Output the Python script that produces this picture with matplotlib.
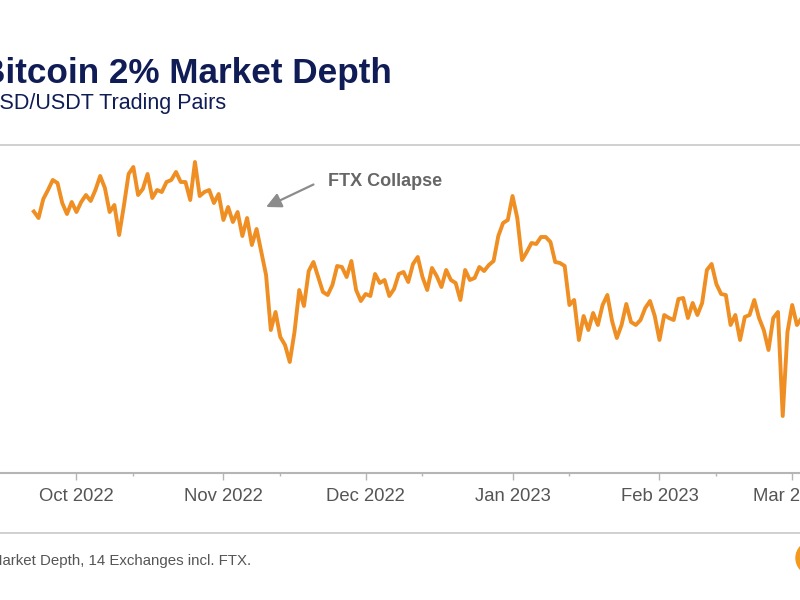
import matplotlib
matplotlib.use("Agg")
import matplotlib.pyplot as plt
import matplotlib.dates as mdates
from matplotlib.lines import Line2D
from matplotlib.patches import Circle
import datetime as dt

plt.rcParams['font.family'] = ['Liberation Sans', 'DejaVu Sans']

# ---- data: BTC 2% market depth (USD m), daily from 2022-09-22 ----
start_date = dt.date(2022, 9, 22)
depth_musd = [
    523, 510, 548, 566, 586, 580, 540, 518, 542, 522,
    542, 556, 544, 566, 594, 570, 522, 536, 476, 534,
    598, 612, 556, 568, 598, 550, 566, 562, 582, 586,
    602, 582, 582, 546, 622, 554, 562, 566, 540, 558,
    506, 532, 502, 522, 474, 510, 456, 488, 442, 396,
    286, 322, 272, 256, 222, 282, 366, 334, 404, 422,
    392, 362, 356, 376, 414, 412, 392, 424, 366, 344,
    358, 354, 398, 380, 386, 354, 368, 398, 402, 382,
    418, 432, 392, 366, 410, 394, 372, 406, 386, 380,
    346, 406, 386, 390, 412, 404, 416, 424, 474, 500,
    506, 554, 510, 426, 442, 460, 458, 472, 472, 462,
    422, 420, 414, 336, 346, 266, 314, 286, 320, 296,
    336, 356, 304, 270, 296, 338, 302, 296, 306, 330,
    344, 314, 266, 316, 310, 306, 348, 350, 310, 340,
    316, 340, 406, 418, 378, 358, 356, 296, 316, 266,
    312, 316, 346, 310, 286, 246, 310, 322, 114, 282,
    336, 296, 310,
]
dates = [start_date + dt.timedelta(days=i) for i in range(len(depth_musd))]

title = "Bitcoin 2% Market Depth"
subtitle = "USD/USDT Trading Pairs"
footer = "Market Depth, 14 Exchanges incl. FTX."
annot_text = "FTX Collapse"
annot_tip = (dt.date(2022, 11, 10), 532)
annot_tail = (dt.date(2022, 11, 20), 577)
annot_text_pos = (dt.date(2022, 11, 23), 584)

line_color = '#EF8E22'
navy = '#101C55'

W, H = 800, 600
fig = plt.figure(figsize=(8, 6), dpi=100)
fig.patch.set_facecolor('white')

def fx(px):
    return px / W

def fy(py):
    return 1 - py / H

ax = fig.add_axes([0, fy(473), 1, (473 - 145) / H])
ax.plot(dates, depth_musd, color=line_color, lw=2.8, solid_joinstyle='round')

d0 = mdates.date2num(start_date)
ax.set_xlim(d0 - 33.8 / 4.74, d0 + (800 - 33.8) / 4.74)
ax.set_ylim(0, 656)

ax.xaxis.set_major_locator(mdates.MonthLocator())
ax.xaxis.set_major_formatter(mdates.DateFormatter('%b %Y'))
ax.xaxis.set_minor_locator(mdates.DayLocator(bymonthday=13))
ax.tick_params(axis='x', which='major', length=5, width=1, color='#b5b5b5',
               labelsize=13.3, labelcolor='#555555', pad=6)
ax.tick_params(axis='x', which='minor', length=2.5, width=1, color='#b5b5b5')
ax.set_yticks([])
for s in ['left', 'right']:
    ax.spines[s].set_visible(False)
ax.spines['top'].set_color('#c8c8c8')
ax.spines['top'].set_linewidth(1.2)
ax.spines['bottom'].set_color('#b5b5b5')
ax.spines['bottom'].set_linewidth(1.5)

ax.annotate('', xy=annot_tip, xytext=annot_tail,
            arrowprops=dict(arrowstyle='-|>,head_length=0.9,head_width=0.45',
                            color='#8c8c8c', lw=1.6, shrinkA=0, shrinkB=0))
ax.text(annot_text_pos[0], annot_text_pos[1], annot_text, fontsize=13,
        fontweight='bold', color='#666666', ha='left', va='center')

fig.text(fx(-20), fy(73), title, fontsize=25.3, fontweight='bold', color=navy,
         ha='left', va='center')
fig.text(fx(-16), fy(103), subtitle, fontsize=15.5, color=navy,
         ha='left', va='center')

fig.add_artist(Line2D([0, 1], [fy(533), fy(533)], transform=fig.transFigure,
                      color='#c8c8c8', lw=1.2))
fig.text(fx(-10), fy(561), footer, fontsize=10.8, color='#555555',
         ha='left', va='center')

fig.add_artist(Circle((8.13, 0.42), 0.17, transform=fig.dpi_scale_trans,
                      color='#F39A1E'))

fig.savefig('out.png', dpi=100)
